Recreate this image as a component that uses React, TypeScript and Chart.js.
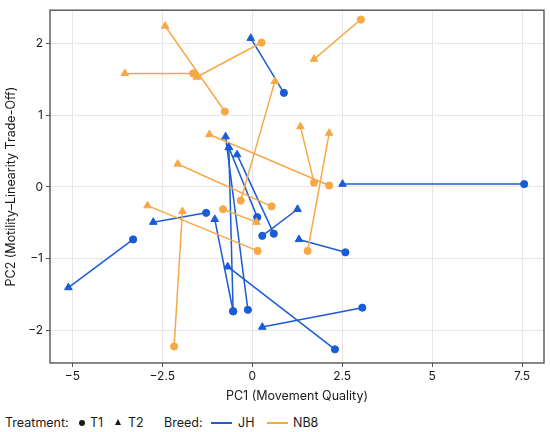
import React, { useEffect, useRef } from 'react';
import { Chart, registerables } from 'chart.js';

Chart.register(...registerables);

const BLUE = '#1a5bd6';
const ORANGE = '#f6a847';
const FONT = 'Inter, "Noto Sans", "DejaVu Sans", sans-serif';
const TEXT = '#1a1a1a';

const breeds = ['JH', 'NB8'];
const treatments = ['T1', 'T2'];
const xTicks = [-5, -2.5, 0, 2.5, 5, 7.5];
const yTicks = [-2, -1, 0, 1, 2];

// JH (blue): T1 (circle) and T2 (triangle) per individual
const jhT1x = [-3.31, -1.28, -0.53, 2.3, 3.06, 0.88, 7.56, 2.59, 0.28, -0.12, 0.14, 0.6, -0.53];
const jhT1y = [-0.73, -0.36, -1.73, -2.26, -1.68, 1.31, 0.04, -0.91, -0.68, -1.71, -0.42, -0.65, -1.73];
const jhT2x = [-5.11, -2.75, -1.04, -0.68, 0.28, -0.04, 2.51, 1.3, 1.26, -0.74, -0.65, -0.42, -0.65];
const jhT2y = [-1.4, -0.49, -0.45, -1.11, -1.95, 2.07, 0.04, -0.73, -0.31, 0.7, 0.55, 0.45, 0.55];

// NB8 (orange)
const nbT1x = [-1.64, -0.76, 0.26, 3.02, -0.32, 2.14, 1.72, 1.54, 0.54, -0.81, 0.15, -2.17];
const nbT1y = [1.58, 1.05, 2.01, 2.33, -0.19, 0.02, 0.06, -0.89, -0.27, -0.31, -0.89, -2.22];
const nbT2x = [-3.54, -2.42, -1.54, 1.72, 0.63, -1.19, 1.34, 2.14, -2.07, 0.12, -2.91, -1.94];
const nbT2y = [1.58, 2.24, 1.53, 1.78, 1.47, 0.73, 0.84, 0.75, 0.32, -0.49, -0.26, -0.34];

const fmt = (v: number) => String(v).replace('-', '\u2212');

const panelBorder = {
  id: 'panelBorder',
  beforeDatasetsDraw(chart: any) {
    const { ctx, chartArea: a } = chart;
    ctx.save();
    ctx.strokeStyle = '#555555';
    ctx.lineWidth = 1.4;
    ctx.strokeRect(a.left, a.top, a.right - a.left, a.bottom - a.top);
    ctx.restore();
  },
};

function buildDatasets() {
  const groups = [
    { color: BLUE, t1x: jhT1x, t1y: jhT1y, t2x: jhT2x, t2y: jhT2y },
    { color: ORANGE, t1x: nbT1x, t1y: nbT1y, t2x: nbT2x, t2y: nbT2y },
  ];
  const lines: any[] = [];
  const points: any[] = [];
  groups.forEach((g, gi) => {
    g.t1x.forEach((_, i) => {
      lines.push({
        label: breeds[gi] + ' ' + i,
        data: [
          { x: g.t1x[i], y: g.t1y[i] },
          { x: g.t2x[i], y: g.t2y[i] },
        ],
        showLine: true,
        borderColor: g.color,
        borderWidth: 1.5,
        pointRadius: 0,
        pointHoverRadius: 0,
      });
    });
    points.push({
      label: breeds[gi] + ' ' + treatments[0],
      data: g.t1x.map((x, i) => ({ x, y: g.t1y[i] })),
      pointStyle: 'circle',
      pointRadius: 3.6,
      backgroundColor: g.color,
      borderColor: g.color,
      borderWidth: 1,
      showLine: false,
    });
    points.push({
      label: breeds[gi] + ' ' + treatments[1],
      data: g.t2x.map((x, i) => ({ x, y: g.t2y[i] })),
      pointStyle: 'triangle',
      pointRadius: 4.4,
      backgroundColor: g.color,
      borderColor: g.color,
      borderWidth: 1,
      showLine: false,
    });
  });
  // first dataset is drawn on top in Chart.js
  return [...points.reverse(), ...lines.reverse()];
}

export default function App() {
  const ref = useRef<HTMLCanvasElement | null>(null);

  useEffect(() => {
    document.body.style.margin = '0';
    if (!ref.current) return;
    const chart = new Chart(ref.current, {
      type: 'scatter',
      data: { datasets: buildDatasets() },
      plugins: [panelBorder],
      options: {
        animation: false,
        responsive: true,
        maintainAspectRatio: false,
        layout: { padding: { top: 5, right: 6, left: 0, bottom: 0 } },
        plugins: { legend: { display: false }, tooltip: { enabled: false } },
        scales: {
          x: {
            type: 'linear',
            min: -5.62,
            max: 8.11,
            afterBuildTicks: (s: any) => {
              s.ticks = xTicks.map((v) => ({ value: v }));
            },
            afterFit: (s: any) => {
              s.height = 47;
            },
            grid: { color: '#e6e6e6', lineWidth: 1, tickLength: 4, tickColor: '#555555', tickWidth: 1 },
            border: { display: false },
            ticks: {
              padding: 2,
              color: TEXT,
              font: { family: FONT, size: 12 },
              callback: (v: any) => fmt(v),
              maxRotation: 0,
            },
            title: {
              display: true,
              text: 'PC1 (Movement Quality)',
              color: TEXT,
              font: { family: FONT, size: 12.5 },
              padding: { top: 0, bottom: 6 },
            },
          },
          y: {
            type: 'linear',
            min: -2.45,
            max: 2.46,
            afterBuildTicks: (s: any) => {
              s.ticks = yTicks.map((v) => ({ value: v }));
            },
            afterFit: (s: any) => {
              s.width = 50;
            },
            grid: { color: '#e6e6e6', lineWidth: 1, tickLength: 4, tickColor: '#555555', tickWidth: 1 },
            border: { display: false },
            ticks: {
              padding: 3,
              color: TEXT,
              font: { family: FONT, size: 12 },
              callback: (v: any) => fmt(v),
            },
            title: {
              display: true,
              text: 'PC2 (Motility\u2013Linearity Trade-Off)',
              color: TEXT,
              font: { family: FONT, size: 12.5 },
              padding: { top: 4, bottom: 0 },
            },
          },
        },
      } as any,
    });
    return () => chart.destroy();
  }, []);

  const txt: React.CSSProperties = {
    position: 'absolute',
    top: 0,
    height: 25,
    lineHeight: '25px',
    fontFamily: FONT,
    fontSize: 12.5,
    color: TEXT,
    whiteSpace: 'nowrap',
  };

  return (
    <div style={{ position: 'relative', width: 550, height: 432, background: '#fff' }}>
      <div style={{ position: 'absolute', left: 0, top: 0, width: 550, height: 410 }}>
        <canvas ref={ref} />
      </div>
      <div style={{ position: 'absolute', left: 0, top: 410, width: 550, height: 22 }}>
        <span style={{ ...txt, left: 5 }}>Treatment:</span>
        <span
          style={{
            position: 'absolute',
            left: 79,
            top: 10,
            width: 6,
            height: 6,
            borderRadius: '50%',
            background: TEXT,
          }}
        />
        <span style={{ ...txt, left: 90 }}>{treatments[0]}</span>
        <span
          style={{
            position: 'absolute',
            left: 114.5,
            top: 9,
            width: 0,
            height: 0,
            borderLeft: '3.5px solid transparent',
            borderRight: '3.5px solid transparent',
            borderBottom: '6.5px solid ' + TEXT,
          }}
        />
        <span style={{ ...txt, left: 128 }}>{treatments[1]}</span>
        <span style={{ ...txt, left: 164 }}>Breed:</span>
        <span style={{ position: 'absolute', left: 211, top: 12, width: 21, height: 2, background: BLUE }} />
        <span style={{ ...txt, left: 238 }}>{breeds[0]}</span>
        <span style={{ position: 'absolute', left: 267, top: 12, width: 21, height: 2, background: ORANGE }} />
        <span style={{ ...txt, left: 293 }}>{breeds[1]}</span>
      </div>
    </div>
  );
}
